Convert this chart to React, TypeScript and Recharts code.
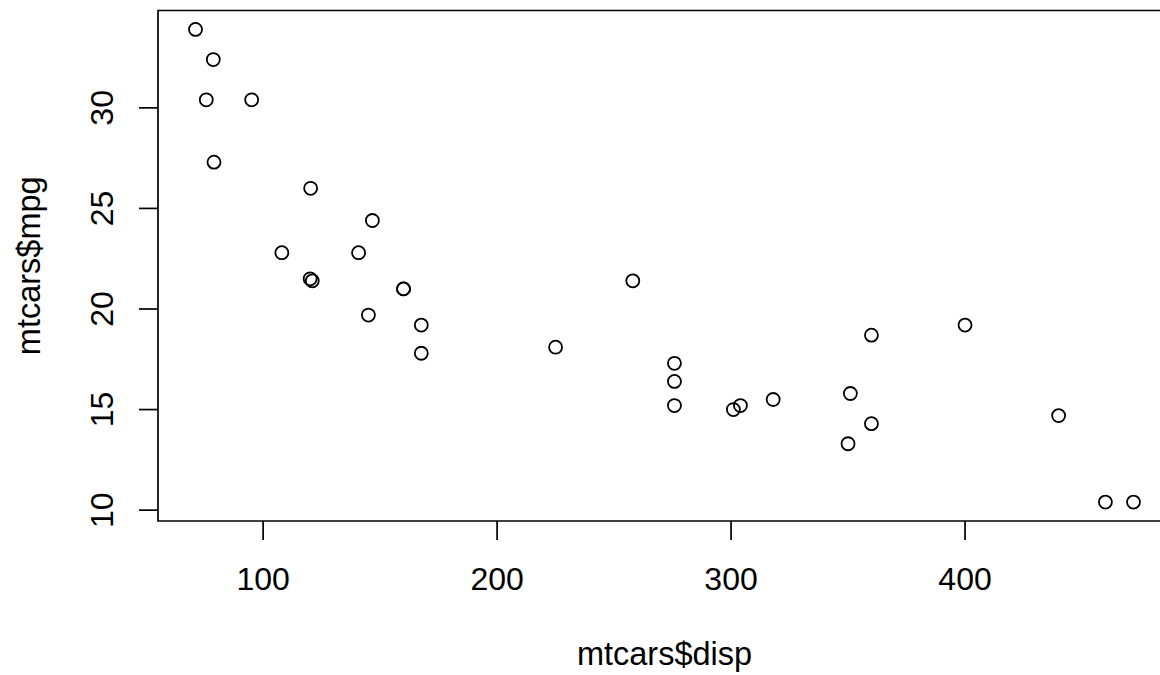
import React from 'react';
import { ScatterChart, Scatter, XAxis, YAxis, ReferenceArea } from 'recharts';

const disp = [160, 160, 108, 258, 360, 225, 360, 146.7, 140.8, 167.6, 167.6, 275.8, 275.8, 275.8, 472, 460, 440, 78.7, 75.7, 71.1, 120.1, 318, 304, 350, 400, 79, 120.3, 95.1, 351, 145, 301, 121];
const mpg = [21.0, 21.0, 22.8, 21.4, 18.7, 18.1, 14.3, 24.4, 22.8, 19.2, 17.8, 16.4, 17.3, 15.2, 10.4, 10.4, 14.7, 32.4, 30.4, 33.9, 21.5, 15.5, 15.2, 13.3, 19.2, 27.3, 26.0, 30.4, 15.8, 19.7, 15.0, 21.4];
const xTicks = [100, 200, 300, 400];
const yTicks = [10, 15, 20, 25, 30];

const xDomain: [number, number] = [55.064, 488.036];
const yDomain: [number, number] = [9.46, 34.84];

const data = disp.map((d, i) => ({ disp: d, mpg: mpg[i] }));

const FONT = '"Liberation Sans", Arial, Helvetica, sans-serif';
const FS = 32;

const XTick = (props: any) => {
  const { x, y, payload } = props;
  return (
    <text x={x} y={y + 48} textAnchor="middle" fontFamily={FONT} fontSize={FS} fill="#000">
      {payload.value}
    </text>
  );
};

const YTick = (props: any) => {
  const { x, y, payload } = props;
  const bx = x - 24;
  return (
    <text x={bx} y={y} textAnchor="middle" transform={`rotate(-90, ${bx}, ${y})`} fontFamily={FONT} fontSize={FS} fill="#000">
      {payload.value}
    </text>
  );
};

const Dot = (props: any) => {
  const { cx, cy } = props;
  return <circle cx={cx} cy={cy} r={6.5} fill="none" stroke="#000" strokeWidth={1.8} />;
};

const XTitle = (props: any) => {
  const vb = props.viewBox || {};
  const cx = vb.x + vb.width / 2;
  return (
    <text x={cx} y={665} textAnchor="middle" fontFamily={FONT} fontSize={FS + 0.5} fill="#000">
      mtcars$disp
    </text>
  );
};

const YTitle = (props: any) => {
  const vb = props.viewBox || {};
  const cy = vb.y + vb.height / 2;
  const bx = 40;
  return (
    <text x={bx} y={cy} textAnchor="middle" transform={`rotate(-90, ${bx}, ${cy})`} fontFamily={FONT} fontSize={FS + 0.5} fill="#000">
      mtcars$mpg
    </text>
  );
};

export default function App() {
  return (
    <div style={{ position: 'fixed', top: 0, left: 0, width: 1160, height: 675, overflow: 'hidden', background: '#fff' }}>
      <ScatterChart width={1200} height={675} margin={{ top: 10.5, right: 29, bottom: 54, left: 0 }}>
        <XAxis
          type="number"
          dataKey="disp"
          domain={xDomain}
          ticks={xTicks}
          allowDataOverflow
          axisLine={false}
          tickLine={{ stroke: '#000', strokeWidth: 1.7 }}
          tickSize={19}
          height={100}
          tick={<XTick />}
          label={<XTitle />}
        />
        <YAxis
          type="number"
          dataKey="mpg"
          domain={yDomain}
          ticks={yTicks}
          allowDataOverflow
          axisLine={false}
          tickLine={{ stroke: '#000', strokeWidth: 1.7 }}
          tickSize={19}
          width={158}
          tick={<YTick />}
          label={<YTitle />}
        />
        <ReferenceArea
          x1={xDomain[0]}
          x2={xDomain[1]}
          y1={yDomain[0]}
          y2={yDomain[1]}
          fill="none"
          fillOpacity={0}
          stroke="#000"
          strokeWidth={1.7}
          strokeOpacity={1}
          ifOverflow="visible"
        />
        <Scatter data={data} isAnimationActive={false} shape={<Dot />} />
      </ScatterChart>
    </div>
  );
}
